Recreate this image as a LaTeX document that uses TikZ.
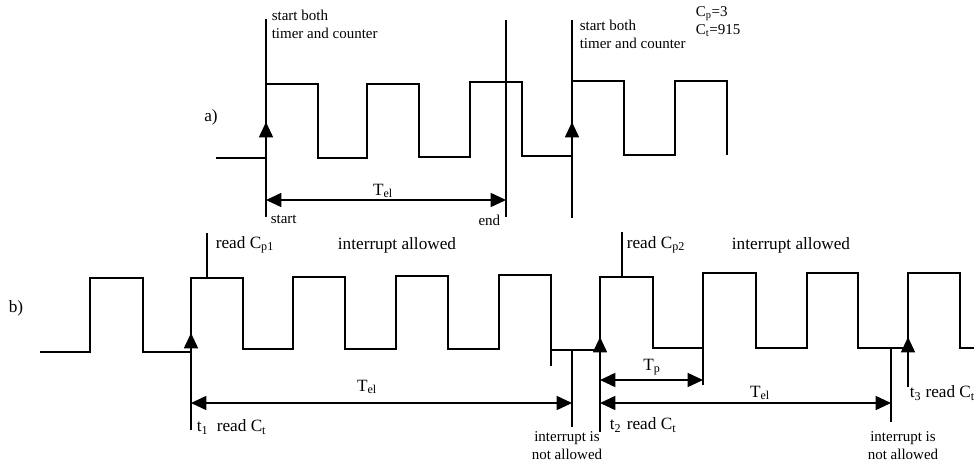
\documentclass[tikz,border=0pt]{standalone}
\usepackage{fontspec}
\setmainfont{Liberation Serif}
\usetikzlibrary{arrows.meta}

\newcommand{\smalltext}{\fontsize{12.8}{15.4}\selectfont}
\newcommand{\bigtext}{\fontsize{14.7}{17}\selectfont}

\begin{document}
\begin{tikzpicture}[x=0.03cm, y=-0.03cm, line width=1.4pt,
    every node/.style={inner sep=0pt, font=\bigtext},
    smalltxt/.style={font=\smalltext},
    dimline/.style={{Triangle[length=4.6mm,width=4.2mm]}-{Triangle[length=4.6mm,width=4.2mm]}},
    edgetip/.style={-{Triangle[length=4.6mm,width=4.2mm]}}]
  \useasboundingbox (0,0) rectangle (974,464);
  % panel a
  \draw (216,158) -- (266,158) -- (266,84) -- (318,84) -- (318,158) -- (367,158) -- (367,84)
    -- (419,84) -- (419,157) -- (470,157) -- (470,82) -- (522,82) -- (522,156) -- (572,156)
    -- (572,81) -- (624,81) -- (624,155) -- (675,155) -- (675,81) -- (727,81) -- (727,155);
  \draw (266,19) -- (266,217);
  \draw (506,20) -- (506,217);
  \draw (572,20) -- (572,218);
  \draw[edgetip] (266,142) -- (266,122);
  \draw[edgetip] (572,142) -- (572,122);
  \draw[dimline] (266,200) -- (506,200);
  \node (alabel) at (211,117) {a)};
  \node[smalltxt, anchor=west, align=left] (startA) at (271,24) {start both\\timer and counter};
  \node[smalltxt, anchor=west, align=left] (startB) at (579,34) {start both\\timer and counter};
  \node[smalltxt, anchor=west, align=left] (cvals) at (695,22) {C\textsubscript{p}=3\\C\textsubscript{t}=915};
  \node (telA) at (383,191) {T\textsubscript{el}};
  \node[smalltxt, anchor=west] (startlbl) at (270,219) {start};
  \node[smalltxt, anchor=east] (endlbl) at (501,220) {end};
  % panel b
  \draw (40,352) -- (90,352) -- (90,278) -- (143,278) -- (143,352) -- (191,352) -- (191,278)
    -- (243,278) -- (243,349) -- (293,349) -- (293,277) -- (345,277) -- (345,349) -- (396,349)
    -- (396,276) -- (448,276) -- (448,349) -- (499,349) -- (499,275) -- (551,275) -- (551,350)
    -- (600,350) -- (600,277) -- (653,277) -- (653,348) -- (703,348) -- (703,273) -- (756,273)
    -- (756,348) -- (807,348) -- (807,273) -- (858,273) -- (858,348) -- (908,348) -- (908,273)
    -- (960,273) -- (960,348) -- (974,348);
  \draw (551,350) -- (551,366);
  \draw (191,278) -- (191,430);
  \draw (207,233) -- (207,278);
  \draw (572,350) -- (572,427);
  \draw (600,277) -- (600,432);
  \draw (622,232) -- (622,277);
  \draw (703,348) -- (703,385);
  \draw (891,348) -- (891,422);
  \draw (908,348) -- (908,387);
  \draw[edgetip] (191,352) -- (191,333);
  \draw[edgetip] (600,350) -- (600,337);
  \draw[edgetip] (908,350) -- (908,337);
  \draw[dimline] (191,403) -- (572,403);
  \draw[dimline] (600,380) -- (703,380);
  \draw[dimline] (600,403) -- (891,403);
  \node (blabel) at (16,308) {b)};
  \node[anchor=west] (readp1) at (215,245) {read C\textsubscript{p1}};
  \node (allowA) at (397,245) {interrupt allowed};
  \node (telB) at (367,387) {T\textsubscript{el}};
  \node[anchor=west] (tone) at (196,428) {t\textsubscript{1}};
  \node[anchor=west] (readtA) at (216,427) {read C\textsubscript{t}};
  \node[smalltxt, align=center] (notA) at (567,446) {interrupt is\\not allowed};
  \node[anchor=west] (readp2) at (626,245) {read C\textsubscript{p2}};
  \node (allowB) at (791,245) {interrupt allowed};
  \node (tp) at (652,367) {T\textsubscript{p}};
  \node (telC) at (760,393) {T\textsubscript{el}};
  \node[anchor=west] (ttwo) at (609,426) {t\textsubscript{2}};
  \node[anchor=west] (readtB) at (626,425) {read C\textsubscript{t}};
  \node[smalltxt, align=center] (notB) at (903,446) {interrupt is\\not allowed};
  \node[anchor=west] (tthree) at (909,393) {t\textsubscript{3} read C\textsubscript{t}};
\end{tikzpicture}
\end{document}
